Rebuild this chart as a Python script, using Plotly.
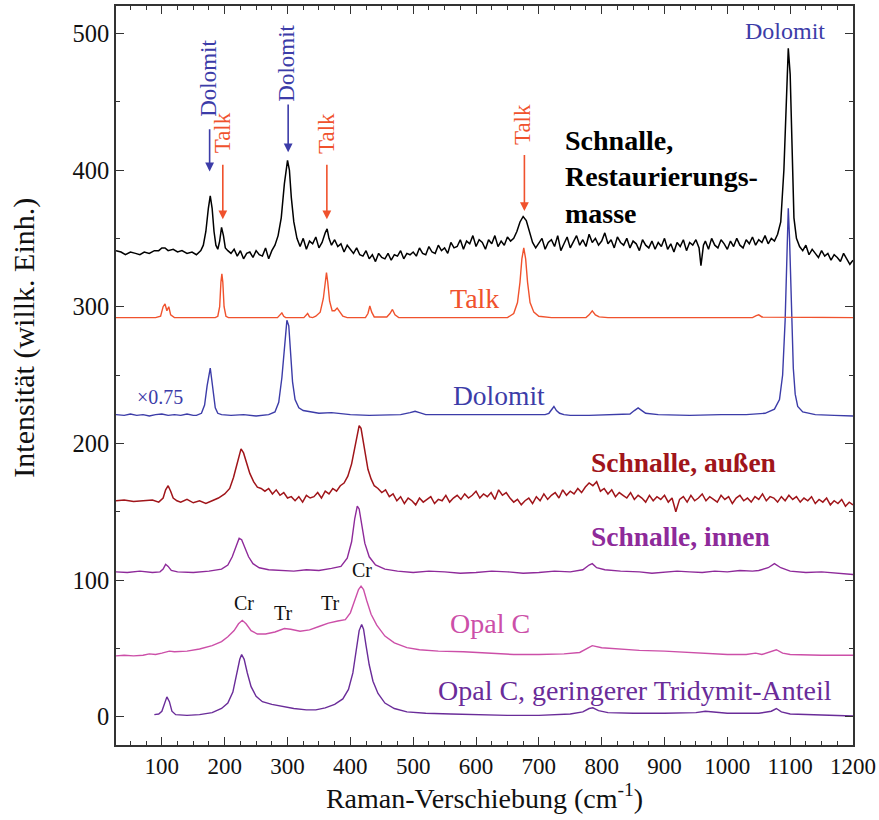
import plotly.graph_objects as go

# ---------------- data ----------------
x_rest = [27,35,42,50,58,65,72,80,88,95,100,105,110,118,125,132,140,148,155,162,166,170,174,177,180,183,186,189,192,195,198,201,
          205,210,215,220,225,230,235,240,245,250,255,260,265,270,275,280,285,290,295,300,303,306,
          310,315,320,325,330,335,340,345,350,355,360,363,366,370,375,380,385,390,395,
          400,405,410,415,420,425,430,435,440,445,450,455,460,465,470,475,480,485,490,495,500,505,510,515,520,525,530,535,540,545,550,555,560,565,570,575,580,585,590,595,600,605,610,615,620,625,630,635,640,645,650,655,660,
          665,670,675,680,685,690,695,
          700,705,710,715,720,725,730,735,740,745,750,755,760,765,770,775,780,785,790,795,800,805,810,815,820,825,830,835,840,845,850,855,860,865,870,875,880,885,890,895,900,905,910,915,920,925,930,935,940,945,950,955,958,962,965,970,975,980,985,990,995,1000,1005,1010,1015,1020,1025,1030,1035,1040,1045,1050,1055,1060,1065,1070,1075,1080,
          1085,1090,1094,1097,1100,1103,1106,1110,
          1115,1120,1125,1130,1135,1140,1145,1150,1155,1160,1165,1170,1175,1180,1185,1190,1195,1200]
y_rest = [341,340,338,340,339,338,340,339,341,341,343,343,341,342,340,341,339,340,338,341,345,355,372,381,372,355,345,342,348,358,352,343,
          341,339,342,337,341,335,339,340,336,341,338,337,343,335,341,345,352,365,390,407,400,380,
          362,350,344,350,342,348,346,351,343,347,354,357,350,345,349,344,346,340,345,
          342,339,343,338,337,341,335,338,333,339,336,335,339,334,338,337,341,335,339,338,340,337,343,339,338,344,340,339,345,341,343,339,347,343,344,349,342,348,346,352,344,349,347,342,349,346,352,344,348,345,351,348,350,
          355,362,366,363,354,347,343,
          347,350,342,347,349,344,352,341,346,351,343,348,352,345,349,344,353,347,350,345,348,354,346,349,343,351,347,345,350,343,348,346,341,349,345,343,348,342,347,344,350,342,346,340,347,344,349,341,347,345,349,343,330,345,348,342,350,345,343,349,346,342,348,344,350,345,343,349,346,351,345,349,347,352,346,350,348,353,
          362,400,455,489,470,410,365,350,
          344,341,345,338,342,339,336,341,337,339,334,338,336,333,339,335,331,334]

x_talk = [27,90,98,102,105,108,111,114,120,185,189,192,194,195.5,197,199,202,206,284,289,291,294,297,326,330,332,335,340,345,352,357,360,362,364,367,371,375,379,383,388,395,424,428,431,434,438,458,463,467,471,477,650,660,666,670,673,676,679,682,686,692,700,720,775,780,785,790,796,810,1040,1046,1050,1055,1200]
y_talk = [292,292,293,300,302,297,300,294,292,292,293,300,318,324,318,300,293,292,292,294,295.5,293,292,292,294,295,292.5,292,293,296,306,320,325,318,304,297,297,299,296,293,292,292,295,300.5,296,292.5,292.5,295,298,294,292,292,295,303,318,335,343,335,318,303,296,293,292,292,294,297,294,292.5,292,292,293.5,294,292.5,292]

x_dolo = [27,40,50,60,70,80,90,100,110,120,130,140,150,155,163,168,172,175,177,179,182,185,189,195,210,230,250,270,280,286,291,295,299,302,305,308,312,318,325,335,350,370,380,400,430,460,480,495,503,510,520,530,560,600,640,680,710,716,720,724,728,733,740,750,780,820,845,852,858,864,870,890,940,990,1030,1060,1075,1083,1088,1092,1095,1097,1099,1102,1105,1108,1112,1120,1140,1170,1200]
y_dolo = [221,220.5,221.5,220.5,221,220,221,221.5,220.5,221,220.5,221.5,220.5,220.5,222,228,242,252,255,248,235,226,222,221,220.5,221,220,221,223,230,248,272,290,286,265,245,232,226,224,223,222,222.5,222,221,220.5,221,221,222.5,223.5,222.5,221,221,221,220.5,221,220.5,221,222,225,227,224,222,221,220.5,220.5,221,221.5,224,226,224,222,221,220.5,221,221,222,225,232,250,290,340,372,350,295,255,236,227,223,221,220.5,220]

x_aus = [27,40,55,70,85,95,102,106,110,114,118,124,130,140,150,160,170,180,190,200,208,214,220,226,230,235,240,
         246,252,258,264,270,276,282,288,294,300,306,312,318,324,330,336,342,348,354,360,366,372,378,384,390,396,
         402,407,411,414,417,420,424,428,433,438,
         444,450,456,462,468,474,480,486,492,498,504,510,516,522,528,534,540,546,552,558,564,570,576,582,588,594,600,606,612,618,624,630,636,642,648,654,660,666,672,678,684,690,696,702,708,714,720,726,732,738,744,750,756,762,768,774,780,786,792,798,804,810,816,822,828,834,840,846,852,858,864,870,876,882,888,894,900,906,912,918,924,930,936,942,948,954,960,966,972,978,984,990,996,1002,1008,1014,1020,1026,1032,1038,1044,1050,1056,1062,1068,1074,1080,1086,1092,1098,1104,1110,1116,1122,1128,1134,1140,1146,1152,1158,1164,1170,1176,1182,1188,1194,1200]
y_aus = [158,158.5,157.5,158,158.5,157,160,166,169,165,160,158,157,159,156.5,158,156,158,160,163,167,175,186,196,193,185,178,
         172,168,167,165,167,163,166,162,164,160,161,158,161,157,162,160,161,164,160,165,163,167,165,169,171,176,
         185,198,208,213,211,202,190,181,174,169,
         167,164,166,161,163,158,161,156,160,158,155,160,157,159,161,156,159,158,162,157,160,162,159,163,160,162,165,160,163,161,164,159,166,162,164,160,157,159,155,158,160,156,161,158,163,159,162,164,160,166,162,165,163,167,164,168,171,169,172,165,167,163,166,161,164,162,160,164,159,162,160,157,162,158,161,159,162,157,160,150,159,161,157,162,158,160,163,158,161,159,157,162,159,161,156,160,162,158,160,157,161,159,163,158,161,160,157,161,158,162,159,161,157,160,158,161,156,159,157,160,155,158,156,159,154,157,155]

x_inn = [27,45,65,85,97,102,106,110,115,125,150,175,195,205,212,218,223,227,232,238,245,255,270,290,310,330,350,370,385,395,402,407,411,414,418,423,430,440,455,475,500,525,550,575,600,625,650,675,700,725,750,770,780,785,792,805,830,860,880,900,920,940,960,980,1000,1020,1040,1050,1065,1075,1085,1100,1125,1150,1175,1200]
y_inn = [106,105.5,106.5,105.5,106,108,111.5,110,107,106,105.5,106.5,108,111,117,125,130.5,129.5,124,117,112,109,107.5,107,106.5,107.5,107,108.5,110,116,128,145,154,152,140,127,117,111,108,106.5,105.5,106.5,106,105,105.5,106.5,106,105,105.5,106.5,106,107.5,111,112,109,107.5,106.5,106,105,105.5,106.5,106,105.5,106.5,106,107,106.5,107,109,112,109,106.5,105.5,106,105,104]

x_opal = [27,40,55,70,80,90,100,106,112,120,140,160,180,195,205,215,222,228,234,242,252,265,280,295,305,320,335,350,365,380,392,400,407,413,417,421,426,433,442,455,470,490,510,540,580,620,660,700,740,765,778,785,800,830,860,900,950,1000,1030,1045,1055,1070,1078,1088,1100,1150,1200]
y_opal = [44.5,45,44.5,45,46,45.5,46.5,47.5,48,47.5,48,49.5,52,55,58.5,63,68,70.5,68,63,60.5,60.5,62,64.5,64,62.5,63.5,66,68.5,70,71,76,86,93,95.5,93,85,75,67,59,54,50.5,49,48,47.5,46.5,45.5,45.5,46,47,50,52,50.5,49.5,48.5,48,47,45.5,45.5,46.5,45.5,47.5,49,46.5,45.5,45,45]

x_trid = [88,95,100,104,108,112,116,122,140,160,180,195,205,213,219,224,227,231,236,242,250,260,275,290,310,330,345,360,375,388,397,404,410,414,418,421,425,430,436,444,455,470,490,520,560,600,650,700,750,770,780,786,795,810,850,900,950,965,975,1000,1050,1070,1078,1086,1100,1150,1200]
y_trid = [1.5,2,4,10,14.5,11,4,1.5,1,1.5,3,6,10,18,30,42,45.5,42,32,22,15,11,9,7.5,6,5,5,6.5,9,13,20,32,50,63,67.5,64,52,38,26,17,10,6,3.5,2.5,2,1.5,1,1,2,3.5,6,6.5,4.5,3,2.5,2.5,3,4,3.5,2.5,2.5,4,6,3.5,2,1.5,0.5]

x_ticks = [100, 200, 300, 400, 500, 600, 700, 800, 900, 1000, 1100, 1200]
y_ticks = [0, 100, 200, 300, 400, 500]

for a, b in [(x_rest, y_rest), (x_talk, y_talk), (x_dolo, y_dolo), (x_aus, y_aus),
             (x_inn, y_inn), (x_opal, y_opal), (x_trid, y_trid)]:
    assert len(a) == len(b), (len(a), len(b))

# ---------------- styles ----------------
C_BLACK = "#000000"
C_TALK = "#F0522D"
C_DOLO = "#3C3CA8"
C_AUS = "#A0151A"
C_INN = "#8E2A9A"
C_OPAL = "#CC4FA8"
C_TRID = "#6A2C99"
FONT = "Liberation Serif"

fig = go.Figure()
series = [
    (x_trid, y_trid, C_TRID, "Opal C, geringerer Tridymit-Anteil", 1.4),
    (x_opal, y_opal, C_OPAL, "Opal C", 1.4),
    (x_inn, y_inn, C_INN, "Schnalle, innen", 1.4),
    (x_aus, y_aus, C_AUS, "Schnalle, außen", 1.5),
    (x_dolo, y_dolo, C_DOLO, "Dolomit", 1.4),
    (x_talk, y_talk, C_TALK, "Talk", 1.4),
    (x_rest, y_rest, C_BLACK, "Schnalle, Restaurierungsmasse", 1.5),
]
for xs, ys, col, name, w in series:
    fig.add_trace(go.Scatter(x=xs, y=ys, mode="lines", name=name,
                             line=dict(color=col, width=w), showlegend=False))

ann = []
def label(x, y, text, color, size, bold=False, xanchor="left", angle=0):
    t = f"<b>{text}</b>" if bold else text
    ann.append(dict(x=x, y=y, xref="x", yref="y", text=t, showarrow=False,
                    xanchor=xanchor, yanchor="middle", textangle=angle, align="left",
                    font=dict(family=FONT, size=size, color=color)))

def arrow(x, ytail, ytip, color):
    ann.append(dict(x=x, y=ytip, ax=x, ay=ytail, xref="x", yref="y",
                    axref="x", ayref="y", text="", showarrow=True,
                    arrowhead=2, arrowsize=1.1, arrowwidth=1.6, arrowcolor=color,
                    standoff=0, startstandoff=0))

label(739, 395, "Schnalle,<br>Restaurierungs-<br>masse", C_BLACK, 28, bold=True)
label(556, 306, "Talk", C_TALK, 28)
label(560, 235, "Dolomit", C_DOLO, 27.5)
label(1092, 502, "Dolomit", C_DOLO, 24, xanchor="center")
label(780, 186, "Schnalle, außen", C_AUS, 27.5, bold=True)
label(780, 132, "Schnalle, innen", C_INN, 27.5, bold=True)
label(556, 68, "Opal C", C_OPAL, 28)
label(537, 19.5, "Opal C, geringerer Tridymit-Anteil", C_TRID, 28)
label(230, 83, "Cr", "#111111", 20, xanchor="center")
label(293, 76, "Tr", "#111111", 20, xanchor="center")
label(368, 83, "Tr", "#111111", 20, xanchor="center")
label(418, 107, "Cr", "#111111", 20, xanchor="center")
label(97, 234, "×0.75", C_DOLO, 20, xanchor="center")

# rotated labels with arrows
label(174, 467, "Dolomit", C_DOLO, 23, xanchor="center", angle=-90)
label(196, 427, "Talk", C_TALK, 23, xanchor="center", angle=-90)
label(298, 478, "Dolomit", C_DOLO, 23, xanchor="center", angle=-90)
label(361, 427, "Talk", C_TALK, 23, xanchor="center", angle=-90)
label(675, 433, "Talk", C_TALK, 23, xanchor="center", angle=-90)
arrow(176, 431, 399, C_DOLO)
arrow(197, 405, 364, C_TALK)
arrow(301, 449, 413, C_DOLO)
arrow(362.6, 405, 364, C_TALK)
arrow(677, 412, 370, C_TALK)

# y-axis title (placed as paper annotation to sit where the reference has it)
ann.append(dict(x=-0.125, y=0.551, xref="paper", yref="paper", text="Intensität (willk. Einh.)",
                showarrow=False, textangle=-90, xanchor="center", yanchor="middle",
                font=dict(family=FONT, size=30, color="#111111")))

axis_common = dict(showline=True, linewidth=1.5, linecolor="#333333", mirror="ticks",
                   ticks="inside", ticklen=8, tickwidth=1.3, tickcolor="#333333",
                   showgrid=False, zeroline=False, automargin=False)

fig.update_layout(
    width=879, height=820,
    margin=dict(l=116, r=26, t=6, b=75),
    paper_bgcolor="white", plot_bgcolor="white",
    annotations=ann,
    xaxis=dict(range=[27, 1200], tickvals=x_ticks, ticktext=[str(v) for v in x_ticks],
               tickfont=dict(family=FONT, size=23, color="#111111"),
               minor=dict(dtick=25, tick0=0, ticks="inside", ticklen=4, tickwidth=1.2, tickcolor="#333333"),
               title=dict(text="Raman-Verschiebung (cm<sup>-1</sup>)", standoff=2,
                          font=dict(family=FONT, size=28, color="#111111")),
               **axis_common),
    yaxis=dict(range=[-20.7, 520], tickvals=y_ticks, ticktext=[str(v) for v in y_ticks],
               tickfont=dict(family=FONT, size=24.5, color="#111111"),
               minor=dict(dtick=50, tick0=0, ticks="inside", ticklen=4, tickwidth=1.2, tickcolor="#333333"),
               **axis_common),
)

# remove the page's default body margin so the 879x820 figure fills the window exactly
fig.write_html("out.html", config={"displayModeBar": False},
               post_script="document.body.style.margin='0';document.body.style.overflow='hidden';")
